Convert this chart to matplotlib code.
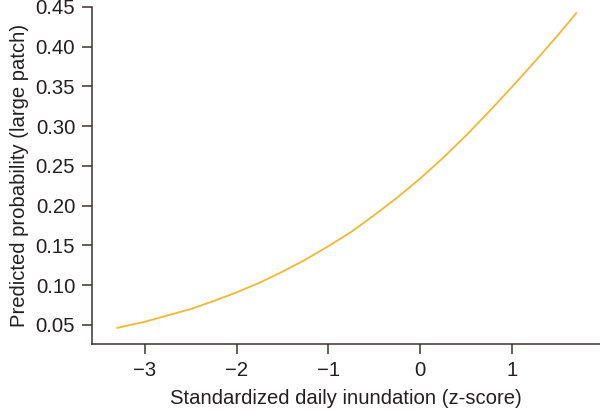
import matplotlib
matplotlib.use("Agg")
import matplotlib.pyplot as plt

plt.rcParams['font.family'] = ['Liberation Sans', 'DejaVu Sans']

z_score = [-3.31, -3.0, -2.75, -2.5, -2.25, -2.0, -1.75, -1.5, -1.25, -1.0,
           -0.75, -0.5, -0.25, 0.0, 0.25, 0.5, 0.75, 1.0, 1.25, 1.5, 1.71]
prob = [0.046, 0.054, 0.062, 0.070, 0.080, 0.091, 0.103, 0.117, 0.132, 0.149,
        0.167, 0.188, 0.210, 0.234, 0.260, 0.288, 0.318, 0.349, 0.381, 0.414, 0.443]

x_ticks = [-3, -2, -1, 0, 1]
x_tick_labels = ['\u22123', '\u22122', '\u22121', '0', '1']
y_ticks = [0.05, 0.10, 0.15, 0.20, 0.25, 0.30, 0.35, 0.40, 0.45]
y_tick_labels = ['0.05', '0.10', '0.15', '0.20', '0.25', '0.30', '0.35', '0.40', '0.45']

fig = plt.figure(figsize=(6.0, 4.11), dpi=100)
ax = fig.add_axes([0.153, 0.163, 0.847, 0.82])
ax.plot(z_score, prob, color='#F5B730', lw=1.3, solid_capstyle='butt',
        solid_joinstyle='round')

ax.set_xlim(-3.578, 1.963)
ax.set_ylim(0.026, 0.45)
ax.set_xticks(x_ticks)
ax.set_xticklabels(x_tick_labels)
ax.set_yticks(y_ticks)
ax.set_yticklabels(y_tick_labels)

for s in ['top', 'right']:
    ax.spines[s].set_visible(False)
for s in ['left', 'bottom']:
    ax.spines[s].set_color('#3a3430')
    ax.spines[s].set_linewidth(1.1)
ax.tick_params(axis='both', colors='#3a3430', length=7, width=1.1,
               labelsize=14.6, labelcolor='#231f20', pad=5)

ax.set_xlabel('Standardized daily inundation (z-score)', fontsize=14.6,
              color='#231f20', labelpad=7)
ax.set_ylabel('Predicted probability (large patch)', fontsize=14.6,
              color='#231f20', labelpad=5)

fig.savefig('out.png', dpi=100)
